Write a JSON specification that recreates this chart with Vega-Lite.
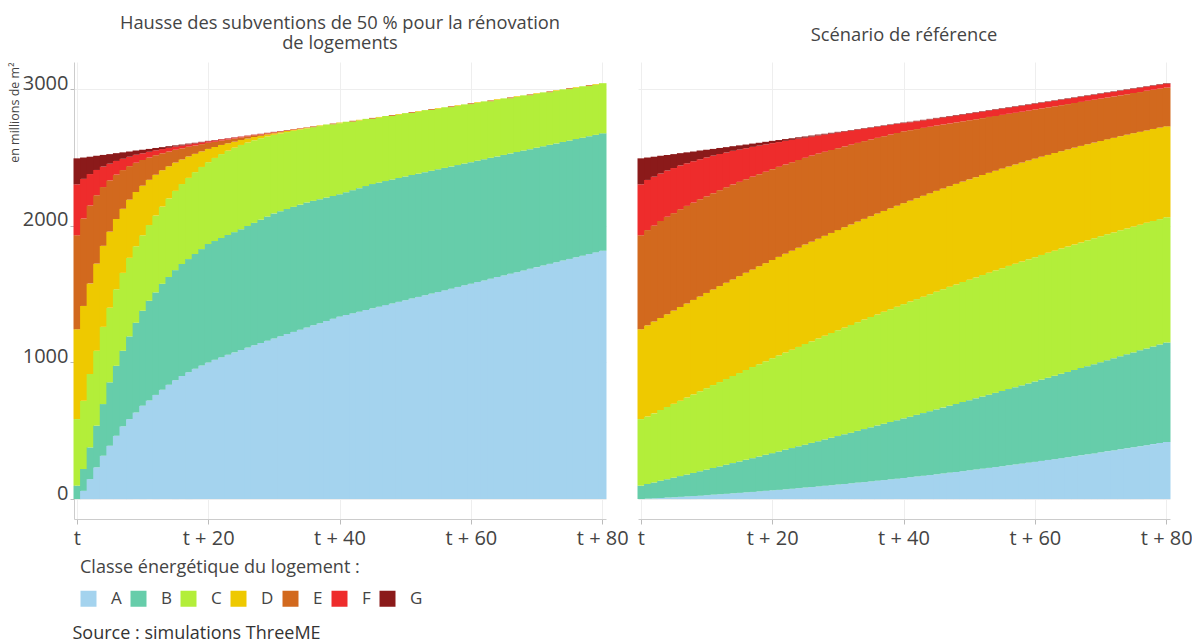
{
"$schema": "https://vega.github.io/schema/vega-lite/v6.json",
"background": "white",
"padding": {"left": 8, "top": 14, "right": 0, "bottom": 4},
"config": {"view": {"stroke": null}, "font": "Open Sans",
  "axis": {"labelFont": "Open Sans", "titleFont": "Open Sans", "labelColor": "#444", "gridColor": "#eeeeee", "gridWidth": 1, "domainColor": "#cccccc", "tickColor": "#bbbbbb"},
  "title": {"font": "Open Sans", "fontSize": 18.3, "fontWeight": "normal", "color": "#444", "lineHeight": 19.5}},
"data": {"values": [
{"s":"H","t":0,"A":0,"B":98,"C":487,"D":657,"E":688,"F":373,"G":190},
{"s":"H","t":1,"A":60,"B":160,"C":499,"D":694,"E":640,"F":290,"G":156},
{"s":"H","t":2,"A":146,"B":232,"C":537,"D":663,"E":570,"F":230,"G":127},
{"s":"H","t":3,"A":232,"B":305,"C":548,"D":638,"E":500,"F":185,"G":104},
{"s":"H","t":4,"A":317,"B":378,"C":565,"D":593,"E":430,"F":150,"G":85},
{"s":"H","t":5,"A":390,"B":464,"C":546,"D":557,"E":375,"F":122,"G":70},
{"s":"H","t":6,"A":463,"B":512,"C":560,"D":514,"E":325,"F":100,"G":57},
{"s":"H","t":7,"A":532,"B":553,"C":570,"D":469,"E":283,"F":83,"G":47},
{"s":"H","t":8,"A":585,"B":605,"C":575,"D":426,"E":245,"F":69,"G":38},
{"s":"H","t":9,"A":634,"B":656,"C":560,"D":396,"E":215,"F":58,"G":31},
{"s":"H","t":10,"A":683,"B":695,"C":552,"D":363,"E":188,"F":49,"G":26},
{"s":"H","t":11,"A":722,"B":729,"C":554,"D":331,"E":163,"F":42,"G":21},
{"s":"H","t":12,"A":762,"B":750,"C":563,"D":298,"E":143,"F":36,"G":17},
{"s":"H","t":13,"A":800,"B":775,"C":565,"D":266,"E":124,"F":31,"G":14},
{"s":"H","t":14,"A":836,"B":789,"C":575,"D":235,"E":108,"F":27,"G":12},
{"s":"H","t":15,"A":870,"B":805,"C":580,"D":207,"E":94,"F":23,"G":9},
{"s":"H","t":16,"A":900,"B":820,"C":585,"D":180,"E":81,"F":20,"G":8},
{"s":"H","t":17,"A":928,"B":828,"C":594,"D":157,"E":71,"F":17,"G":6},
{"s":"H","t":18,"A":953,"B":840,"C":599,"D":134,"E":61,"F":15,"G":5},
{"s":"H","t":19,"A":977,"B":852,"C":601,"D":114,"E":53,"F":13,"G":4},
{"s":"H","t":20,"A":1000,"B":866,"C":599,"D":97,"E":45,"F":11,"G":3},
{"s":"H","t":21,"A":1019,"B":869,"C":608,"D":80,"E":38,"F":10,"G":3},
{"s":"H","t":22,"A":1037,"B":873,"C":614,"D":67,"E":32,"F":9,"G":2},
{"s":"H","t":23,"A":1055,"B":877,"C":617,"D":54,"E":27,"F":8,"G":2},
{"s":"H","t":24,"A":1073,"B":880,"C":618,"D":44,"E":23,"F":7,"G":2},
{"s":"H","t":25,"A":1090,"B":885,"C":616,"D":36,"E":19,"F":6,"G":1},
{"s":"H","t":26,"A":1108,"B":890,"C":611,"D":29,"E":16,"F":5,"G":1},
{"s":"H","t":27,"A":1125,"B":896,"C":604,"D":24,"E":13,"F":4,"G":1},
{"s":"H","t":28,"A":1142,"B":902,"C":596,"D":18,"E":10,"F":4,"G":1},
{"s":"H","t":29,"A":1159,"B":908,"C":586,"D":15,"E":8,"F":3,"G":1},
{"s":"H","t":30,"A":1175,"B":915,"C":575,"D":11,"E":7,"F":3,"G":1},
{"s":"H","t":31,"A":1191,"B":915,"C":569,"D":9,"E":5,"F":3,"G":1},
{"s":"H","t":32,"A":1207,"B":915,"C":563,"D":8,"E":4,"F":2,"G":1},
{"s":"H","t":33,"A":1223,"B":915,"C":557,"D":6,"E":4,"F":2,"G":0},
{"s":"H","t":34,"A":1239,"B":915,"C":550,"D":5,"E":3,"F":2,"G":0},
{"s":"H","t":35,"A":1255,"B":915,"C":542,"D":4,"E":3,"F":1,"G":0},
{"s":"H","t":36,"A":1271,"B":911,"C":539,"D":0,"E":6,"F":0,"G":0},
{"s":"H","t":37,"A":1287,"B":907,"C":535,"D":5,"E":0,"F":0,"G":0},
{"s":"H","t":38,"A":1303,"B":903,"C":535,"D":0,"E":0,"F":0,"G":0},
{"s":"H","t":39,"A":1319,"B":899,"C":524,"D":0,"E":6,"F":0,"G":0},
{"s":"H","t":40,"A":1335,"B":895,"C":520,"D":5,"E":0,"F":0,"G":0},
{"s":"H","t":41,"A":1347,"B":898,"C":516,"D":0,"E":0,"F":0,"G":0},
{"s":"H","t":42,"A":1359,"B":901,"C":502,"D":0,"E":6,"F":0,"G":0},
{"s":"H","t":43,"A":1371,"B":904,"C":495,"D":5,"E":0,"F":0,"G":0},
{"s":"H","t":44,"A":1383,"B":907,"C":492,"D":0,"E":0,"F":0,"G":0},
{"s":"H","t":45,"A":1395,"B":910,"C":478,"D":0,"E":6,"F":0,"G":0},
{"s":"H","t":46,"A":1407,"B":909,"C":475,"D":5,"E":0,"F":0,"G":0},
{"s":"H","t":47,"A":1419,"B":908,"C":476,"D":0,"E":0,"F":0,"G":0},
{"s":"H","t":48,"A":1431,"B":907,"C":466,"D":0,"E":6,"F":0,"G":0},
{"s":"H","t":49,"A":1443,"B":906,"C":463,"D":5,"E":0,"F":0,"G":0},
{"s":"H","t":50,"A":1455,"B":905,"C":464,"D":0,"E":0,"F":0,"G":0},
{"s":"H","t":51,"A":1467,"B":904,"C":454,"D":0,"E":6,"F":0,"G":0},
{"s":"H","t":52,"A":1479,"B":902,"C":452,"D":5,"E":0,"F":0,"G":0},
{"s":"H","t":53,"A":1491,"B":901,"C":454,"D":0,"E":0,"F":0,"G":0},
{"s":"H","t":54,"A":1503,"B":899,"C":445,"D":0,"E":6,"F":0,"G":0},
{"s":"H","t":55,"A":1515,"B":898,"C":442,"D":5,"E":0,"F":0,"G":0},
{"s":"H","t":56,"A":1527,"B":896,"C":444,"D":0,"E":0,"F":0,"G":0},
{"s":"H","t":57,"A":1539,"B":895,"C":434,"D":0,"E":6,"F":0,"G":0},
{"s":"H","t":58,"A":1552,"B":892,"C":432,"D":5,"E":0,"F":0,"G":0},
{"s":"H","t":59,"A":1564,"B":891,"C":433,"D":0,"E":0,"F":0,"G":0},
{"s":"H","t":60,"A":1576,"B":889,"C":425,"D":0,"E":6,"F":0,"G":0},
{"s":"H","t":61,"A":1588,"B":888,"C":422,"D":5,"E":0,"F":0,"G":0},
{"s":"H","t":62,"A":1600,"B":886,"C":424,"D":0,"E":0,"F":0,"G":0},
{"s":"H","t":63,"A":1612,"B":885,"C":414,"D":0,"E":6,"F":0,"G":0},
{"s":"H","t":64,"A":1624,"B":883,"C":413,"D":5,"E":0,"F":0,"G":0},
{"s":"H","t":65,"A":1636,"B":882,"C":414,"D":0,"E":0,"F":0,"G":0},
{"s":"H","t":66,"A":1648,"B":881,"C":404,"D":0,"E":6,"F":0,"G":0},
{"s":"H","t":67,"A":1660,"B":879,"C":403,"D":5,"E":0,"F":0,"G":0},
{"s":"H","t":68,"A":1672,"B":878,"C":404,"D":0,"E":0,"F":0,"G":0},
{"s":"H","t":69,"A":1685,"B":875,"C":395,"D":0,"E":6,"F":0,"G":0},
{"s":"H","t":70,"A":1697,"B":874,"C":393,"D":5,"E":0,"F":0,"G":0},
{"s":"H","t":71,"A":1709,"B":872,"C":395,"D":0,"E":0,"F":0,"G":0},
{"s":"H","t":72,"A":1721,"B":871,"C":385,"D":0,"E":6,"F":0,"G":0},
{"s":"H","t":73,"A":1733,"B":869,"C":384,"D":5,"E":0,"F":0,"G":0},
{"s":"H","t":74,"A":1745,"B":868,"C":385,"D":0,"E":0,"F":0,"G":0},
{"s":"H","t":75,"A":1757,"B":866,"C":377,"D":0,"E":6,"F":0,"G":0},
{"s":"H","t":76,"A":1769,"B":865,"C":374,"D":5,"E":0,"F":0,"G":0},
{"s":"H","t":77,"A":1781,"B":863,"C":377,"D":0,"E":0,"F":0,"G":0},
{"s":"H","t":78,"A":1793,"B":862,"C":367,"D":0,"E":6,"F":0,"G":0},
{"s":"H","t":79,"A":1805,"B":860,"C":366,"D":5,"E":0,"F":0,"G":0},
{"s":"H","t":80,"A":1817,"B":859,"C":367,"D":0,"E":0,"F":0,"G":0},
{"s":"R","t":0,"A":0,"B":98,"C":487,"D":657,"E":688,"F":373,"G":190},
{"s":"R","t":1,"A":3,"B":107,"C":494,"D":667,"E":697,"F":367,"G":164},
{"s":"R","t":2,"A":5,"B":116,"C":506,"D":672,"E":702,"F":358,"G":146},
{"s":"R","t":3,"A":8,"B":125,"C":518,"D":674,"E":709,"F":349,"G":129},
{"s":"R","t":4,"A":11,"B":133,"C":530,"D":678,"E":713,"F":339,"G":114},
{"s":"R","t":5,"A":13,"B":143,"C":541,"D":682,"E":713,"F":330,"G":102},
{"s":"R","t":6,"A":16,"B":152,"C":552,"D":685,"E":715,"F":321,"G":90},
{"s":"R","t":7,"A":19,"B":160,"C":564,"D":688,"E":714,"F":312,"G":80},
{"s":"R","t":8,"A":22,"B":169,"C":575,"D":691,"E":712,"F":303,"G":71},
{"s":"R","t":9,"A":25,"B":178,"C":586,"D":693,"E":711,"F":294,"G":63},
{"s":"R","t":10,"A":28,"B":187,"C":596,"D":697,"E":707,"F":285,"G":56},
{"s":"R","t":11,"A":32,"B":195,"C":607,"D":699,"E":705,"F":275,"G":49},
{"s":"R","t":12,"A":35,"B":204,"C":617,"D":702,"E":702,"F":265,"G":44},
{"s":"R","t":13,"A":38,"B":213,"C":627,"D":705,"E":698,"F":255,"G":39},
{"s":"R","t":14,"A":42,"B":221,"C":637,"D":707,"E":695,"F":246,"G":34},
{"s":"R","t":15,"A":45,"B":230,"C":647,"D":709,"E":690,"F":236,"G":31},
{"s":"R","t":16,"A":49,"B":238,"C":657,"D":711,"E":685,"F":227,"G":27},
{"s":"R","t":17,"A":52,"B":247,"C":667,"D":713,"E":680,"F":218,"G":24},
{"s":"R","t":18,"A":56,"B":255,"C":676,"D":716,"E":674,"F":209,"G":21},
{"s":"R","t":19,"A":60,"B":264,"C":684,"D":718,"E":669,"F":200,"G":19},
{"s":"R","t":20,"A":64,"B":272,"C":694,"D":719,"E":665,"F":190,"G":17},
{"s":"R","t":21,"A":67,"B":281,"C":703,"D":721,"E":659,"F":181,"G":15},
{"s":"R","t":22,"A":71,"B":290,"C":711,"D":723,"E":653,"F":173,"G":13},
{"s":"R","t":23,"A":75,"B":298,"C":719,"D":725,"E":647,"F":164,"G":12},
{"s":"R","t":24,"A":80,"B":306,"C":727,"D":726,"E":642,"F":156,"G":10},
{"s":"R","t":25,"A":84,"B":314,"C":736,"D":728,"E":635,"F":147,"G":9},
{"s":"R","t":26,"A":88,"B":323,"C":743,"D":729,"E":630,"F":139,"G":8},
{"s":"R","t":27,"A":92,"B":331,"C":751,"D":731,"E":623,"F":132,"G":7},
{"s":"R","t":28,"A":97,"B":339,"C":759,"D":731,"E":615,"F":126,"G":6},
{"s":"R","t":29,"A":101,"B":347,"C":767,"D":732,"E":607,"F":120,"G":6},
{"s":"R","t":30,"A":106,"B":355,"C":774,"D":733,"E":599,"F":115,"G":5},
{"s":"R","t":31,"A":110,"B":364,"C":780,"D":735,"E":591,"F":109,"G":4},
{"s":"R","t":32,"A":115,"B":371,"C":788,"D":735,"E":584,"F":103,"G":4},
{"s":"R","t":33,"A":120,"B":379,"C":795,"D":736,"E":576,"F":97,"G":4},
{"s":"R","t":34,"A":124,"B":388,"C":801,"D":737,"E":569,"F":91,"G":4},
{"s":"R","t":35,"A":129,"B":396,"C":807,"D":737,"E":562,"F":85,"G":4},
{"s":"R","t":36,"A":134,"B":404,"C":813,"D":738,"E":554,"F":80,"G":4},
{"s":"R","t":37,"A":139,"B":412,"C":819,"D":738,"E":547,"F":75,"G":4},
{"s":"R","t":38,"A":144,"B":420,"C":825,"D":738,"E":540,"F":70,"G":4},
{"s":"R","t":39,"A":149,"B":428,"C":831,"D":738,"E":533,"F":65,"G":4},
{"s":"R","t":40,"A":154,"B":436,"C":836,"D":739,"E":526,"F":60,"G":4},
{"s":"R","t":41,"A":160,"B":443,"C":842,"D":738,"E":516,"F":58,"G":4},
{"s":"R","t":42,"A":165,"B":451,"C":847,"D":738,"E":506,"F":57,"G":4},
{"s":"R","t":43,"A":170,"B":459,"C":852,"D":738,"E":497,"F":55,"G":4},
{"s":"R","t":44,"A":176,"B":467,"C":856,"D":738,"E":487,"F":54,"G":4},
{"s":"R","t":45,"A":181,"B":475,"C":861,"D":738,"E":478,"F":52,"G":4},
{"s":"R","t":46,"A":187,"B":482,"C":866,"D":737,"E":469,"F":51,"G":4},
{"s":"R","t":47,"A":193,"B":490,"C":870,"D":736,"E":459,"F":51,"G":4},
{"s":"R","t":48,"A":198,"B":498,"C":874,"D":736,"E":450,"F":50,"G":4},
{"s":"R","t":49,"A":204,"B":506,"C":878,"D":735,"E":441,"F":49,"G":4},
{"s":"R","t":50,"A":210,"B":513,"C":882,"D":734,"E":433,"F":48,"G":4},
{"s":"R","t":51,"A":216,"B":521,"C":885,"D":733,"E":424,"F":48,"G":4},
{"s":"R","t":52,"A":222,"B":528,"C":889,"D":732,"E":416,"F":47,"G":4},
{"s":"R","t":53,"A":228,"B":536,"C":892,"D":731,"E":409,"F":46,"G":4},
{"s":"R","t":54,"A":234,"B":543,"C":896,"D":729,"E":401,"F":46,"G":4},
{"s":"R","t":55,"A":240,"B":551,"C":898,"D":729,"E":393,"F":45,"G":4},
{"s":"R","t":56,"A":247,"B":558,"C":901,"D":727,"E":386,"F":44,"G":4},
{"s":"R","t":57,"A":253,"B":565,"C":904,"D":726,"E":378,"F":44,"G":4},
{"s":"R","t":58,"A":259,"B":573,"C":906,"D":724,"E":372,"F":43,"G":4},
{"s":"R","t":59,"A":266,"B":580,"C":908,"D":723,"E":365,"F":42,"G":4},
{"s":"R","t":60,"A":272,"B":588,"C":910,"D":721,"E":360,"F":41,"G":4},
{"s":"R","t":61,"A":279,"B":595,"C":912,"D":719,"E":353,"F":41,"G":4},
{"s":"R","t":62,"A":286,"B":602,"C":914,"D":716,"E":348,"F":40,"G":4},
{"s":"R","t":63,"A":292,"B":610,"C":915,"D":715,"E":342,"F":39,"G":4},
{"s":"R","t":64,"A":299,"B":617,"C":917,"D":712,"E":337,"F":39,"G":4},
{"s":"R","t":65,"A":306,"B":624,"C":918,"D":710,"E":332,"F":38,"G":4},
{"s":"R","t":66,"A":313,"B":631,"C":919,"D":708,"E":327,"F":37,"G":4},
{"s":"R","t":67,"A":320,"B":638,"C":920,"D":706,"E":322,"F":37,"G":4},
{"s":"R","t":68,"A":327,"B":645,"C":921,"D":703,"E":318,"F":36,"G":4},
{"s":"R","t":69,"A":334,"B":653,"C":921,"D":700,"E":314,"F":35,"G":4},
{"s":"R","t":70,"A":342,"B":659,"C":922,"D":697,"E":310,"F":35,"G":4},
{"s":"R","t":71,"A":349,"B":666,"C":922,"D":695,"E":306,"F":34,"G":4},
{"s":"R","t":72,"A":356,"B":674,"C":921,"D":692,"E":303,"F":33,"G":4},
{"s":"R","t":73,"A":364,"B":680,"C":922,"D":689,"E":299,"F":33,"G":4},
{"s":"R","t":74,"A":371,"B":688,"C":921,"D":686,"E":296,"F":32,"G":4},
{"s":"R","t":75,"A":379,"B":694,"C":921,"D":683,"E":294,"F":31,"G":4},
{"s":"R","t":76,"A":386,"B":702,"C":920,"D":679,"E":291,"F":31,"G":4},
{"s":"R","t":77,"A":394,"B":708,"C":919,"D":676,"E":290,"F":30,"G":4},
{"s":"R","t":78,"A":402,"B":715,"C":918,"D":673,"E":287,"F":29,"G":4},
{"s":"R","t":79,"A":410,"B":721,"C":917,"D":670,"E":285,"F":29,"G":4},
{"s":"R","t":80,"A":418,"B":728,"C":916,"D":665,"E":284,"F":28,"G":4}
]},
"transform": [{"fold": ["A","B","C","D","E","F","G"], "as": ["classe","valeur"]}],
"bounds": "flush",
"spacing": 32,
"hconcat": [
 {
  "transform": [{"filter": "datum.s == 'H'"}],
  "width": 532, "height": 457,
  "title": {"text": ["Hausse des subventions de 50 % pour la rénovation", "de logements"], "anchor": "middle", "offset": 9},
  "mark": {"type": "bar", "width": {"band": 1.15}},
  "encoding": {
   "x": {"field": "t", "type": "ordinal", "scale": {"paddingInner": 0, "paddingOuter": 0},
     "axis": {"values": [0,20,40,60,80], "labelExpr": "datum.value == 0 ? 't' : 't + ' + datum.value", "labelAngle": 0, "labelFontSize": 20, "labelPadding": 4, "tickSize": 5, "grid": true,
       "title": "Source : simulations ThreeME", "titleX": -2, "titleY": 114, "titleAlign": "left", "titleAnchor": "start", "titleBaseline": "middle", "titleFontSize": 18, "titleFontWeight": "normal", "titleColor": "#333"}},
   "y": {"field": "valeur", "type": "quantitative", "stack": "zero", "scale": {"domain": [-146, 3198], "nice": false, "zero": false},
     "axis": {"values": [0,1000,2000,3000], "format": "d", "labelFontSize": 20, "labelOffset": -6, "labelPadding": 2, "tickSize": 4, "grid": true,
       "title": "en millions de m²", "titleAnchor": "end", "titleFontSize": 12.5, "titleFontWeight": "normal", "titleColor": "#444", "titlePadding": 1}},
   "color": {"field": "classe", "type": "nominal",
     "scale": {"domain": ["A","B","C","D","E","F","G"], "range": ["#a4d3ee","#66cdaa","#b3ee3a","#eec900","#d2691e","#ee2c2c","#8b1a1a"]},
     "legend": {"title": "Classe énergétique du logement :", "titleLimit": 500, "orient": "none", "legendX": 6, "legendY": 497, "direction": "horizontal", "symbolType": "square", "symbolSize": 256, "symbolStrokeWidth": 0, "labelFontSize": 17, "labelColor": "#444", "labelOffset": 14, "columnPadding": 8, "titleFontSize": 18, "titleFontWeight": "normal", "titleColor": "#444", "titlePadding": 13, "padding": 0}},
   "order": {"field": "classe", "sort": "ascending"}
  }
 },
 {
  "transform": [{"filter": "datum.s == 'R'"}],
  "width": 532, "height": 457,
  "title": {"text": "Scénario de référence", "anchor": "middle", "offset": 17},
  "mark": {"type": "bar", "width": {"band": 1.15}},
  "encoding": {
   "x": {"field": "t", "type": "ordinal", "scale": {"paddingInner": 0, "paddingOuter": 0},
     "axis": {"values": [0,20,40,60,80], "labelExpr": "datum.value == 0 ? 't' : 't + ' + datum.value", "labelAngle": 0, "labelFontSize": 20, "labelPadding": 4, "tickSize": 5, "grid": true, "title": null}},
   "y": {"field": "valeur", "type": "quantitative", "stack": "zero", "scale": {"domain": [-146, 3198], "nice": false, "zero": false},
     "axis": {"values": [0,1000,2000,3000], "labels": false, "ticks": false, "domain": false, "grid": true, "title": null}},
   "color": {"field": "classe", "type": "nominal"},
   "order": {"field": "classe", "sort": "ascending"}
  }
 }
]
}
